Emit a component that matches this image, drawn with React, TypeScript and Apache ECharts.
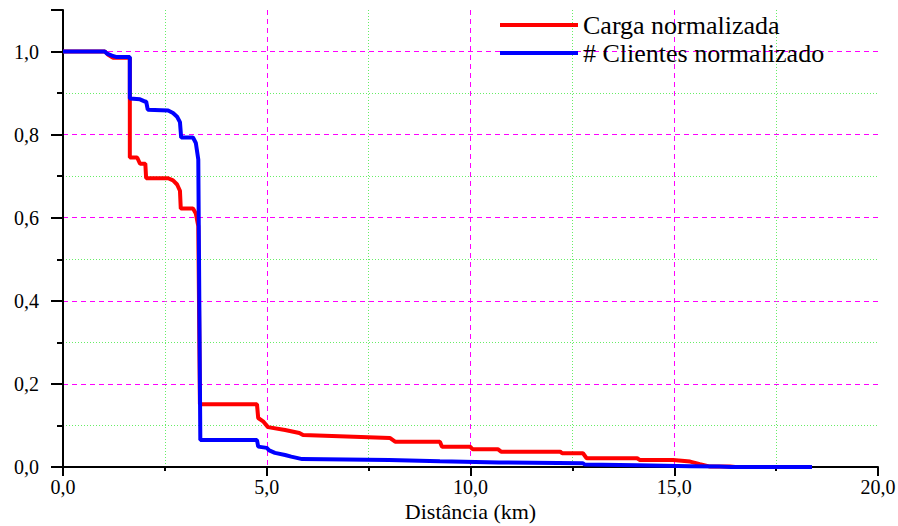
import React, { useEffect, useRef } from "react";
import * as echarts from "echarts";

const seriesNames = ["Carga normalizada", "# Clientes normalizado"];

const cargaData: [number, number][] = [
  [0, 1.0], [1.03, 1.0], [1.1, 0.993], [1.15, 0.99], [1.23, 0.985], [1.64, 0.985],
  [1.64, 0.745], [1.82, 0.745], [1.89, 0.73], [2.02, 0.73], [2.04, 0.695], [2.58, 0.695],
  [2.7, 0.69], [2.8, 0.68], [2.87, 0.665], [2.89, 0.622], [3.19, 0.622], [3.26, 0.61],
  [3.32, 0.58], [3.36, 0.151], [4.76, 0.151], [4.79, 0.118], [4.91, 0.11], [5.03, 0.096],
  [5.45, 0.089], [5.8, 0.082], [5.89, 0.077], [8.02, 0.07], [8.15, 0.061], [9.25, 0.061],
  [9.3, 0.049], [9.99, 0.049], [10.05, 0.043], [10.67, 0.043], [10.75, 0.037], [12.2, 0.037],
  [12.25, 0.033], [12.76, 0.033], [12.85, 0.021], [14.09, 0.021], [14.15, 0.017], [14.97, 0.017],
  [15.39, 0.013], [15.63, 0.007], [15.88, 0.001], [16.37, 0.001], [16.5, 0], [18.38, 0],
];

const clientesData: [number, number][] = [
  [0, 1.0], [1.03, 1.0], [1.08, 0.995], [1.2, 0.99], [1.3, 0.987], [1.64, 0.987],
  [1.64, 0.887], [1.89, 0.885], [2.0, 0.88], [2.04, 0.88], [2.08, 0.86], [2.58, 0.858],
  [2.7, 0.852], [2.8, 0.843], [2.87, 0.83], [2.9, 0.793], [3.19, 0.793], [3.26, 0.78],
  [3.32, 0.74], [3.37, 0.065], [4.76, 0.065], [4.79, 0.049], [5.0, 0.046], [5.06, 0.04],
  [5.2, 0.034], [5.45, 0.029], [5.6, 0.025], [5.87, 0.019], [8.0, 0.017], [9.25, 0.014],
  [10.7, 0.011], [12.76, 0.009], [12.8, 0.006], [14.09, 0.004], [15.4, 0.002], [16.1, 0.001],
  [16.4, 0], [18.38, 0],
];

const xTitle = "Distância (km)";
const FONT = "'Liberation Serif', 'Times New Roman', serif";
const fmt = (v: number) => v.toFixed(1).replace(".", ",");

function majorLine() {
  return { show: true, showMaxLine: false, lineStyle: { color: "#ff00ff", type: [5, 4], width: 1, opacity: 1 } };
}
function minorLine() {
  return { show: true, lineStyle: { color: "#66ee66", type: [1, 2], width: 1, opacity: 1 } };
}

export default function App() {
  const ref = useRef<HTMLDivElement>(null);
  useEffect(() => {
    document.body.style.margin = "0";
    if (!ref.current) return;
    const chart = echarts.init(ref.current, undefined, { renderer: "svg" });
    chart.setOption({
      animation: false,
      backgroundColor: "#ffffff",
      grid: { left: 63, right: 20, top: 10, bottom: 59, containLabel: false, outerBoundsMode: "none" },
      legend: {
        orient: "vertical",
        left: 495,
        top: 7,
        itemWidth: 78,
        itemHeight: 4,
        itemGap: 2,
        icon: "rect",
        textStyle: { fontFamily: FONT, fontSize: 26, color: "#000", lineHeight: 26 },
        data: seriesNames,
      },
      xAxis: {
        type: "value",
        min: 0,
        max: 20,
        interval: 5,
        name: xTitle,
        nameLocation: "middle",
        nameGap: 33,
        nameMoveOverlap: false,
        nameTextStyle: { fontFamily: FONT, fontSize: 22, color: "#000" },
        axisLine: { show: true, onZero: false, lineStyle: { color: "#000", width: 2 } },
        axisTick: { show: true, length: 9, lineStyle: { color: "#000", width: 2 } },
        minorTick: { show: true, splitNumber: 2, length: 4, lineStyle: { color: "#000", width: 2 } },
        axisLabel: { fontFamily: FONT, fontSize: 20, color: "#000", margin: 10, formatter: fmt },
        splitLine: majorLine(),
        minorSplitLine: minorLine(),
      },
      yAxis: {
        type: "value",
        min: 0,
        max: 1.1,
        interval: 0.2,
        axisLine: { show: true, lineStyle: { color: "#000", width: 2 } },
        axisTick: { show: true, length: 12, lineStyle: { color: "#000", width: 2 } },
        minorTick: { show: true, splitNumber: 2, length: 6, lineStyle: { color: "#000", width: 2 } },
        axisLabel: {
          fontFamily: FONT,
          fontSize: 20,
          color: "#000",
          margin: 24,
          showMaxLabel: false,
          formatter: (v: number) => (Math.abs(v - 1.1) < 1e-6 ? "" : fmt(v)),
        },
        splitLine: majorLine(),
        minorSplitLine: minorLine(),
      },
      series: [
        {
          name: seriesNames[0],
          type: "line",
          data: cargaData,
          showSymbol: false,
          symbol: "none",
          lineStyle: { color: "#ff0000", width: 4 },
          itemStyle: { color: "#ff0000" },
          z: 3,
        },
        {
          name: seriesNames[1],
          type: "line",
          data: clientesData,
          showSymbol: false,
          symbol: "none",
          lineStyle: { color: "#0000ff", width: 4 },
          itemStyle: { color: "#0000ff" },
          z: 4,
        },
      ],
    });
    return () => chart.dispose();
  }, []);
  return <div ref={ref} style={{ width: 898, height: 526 }} />;
}
